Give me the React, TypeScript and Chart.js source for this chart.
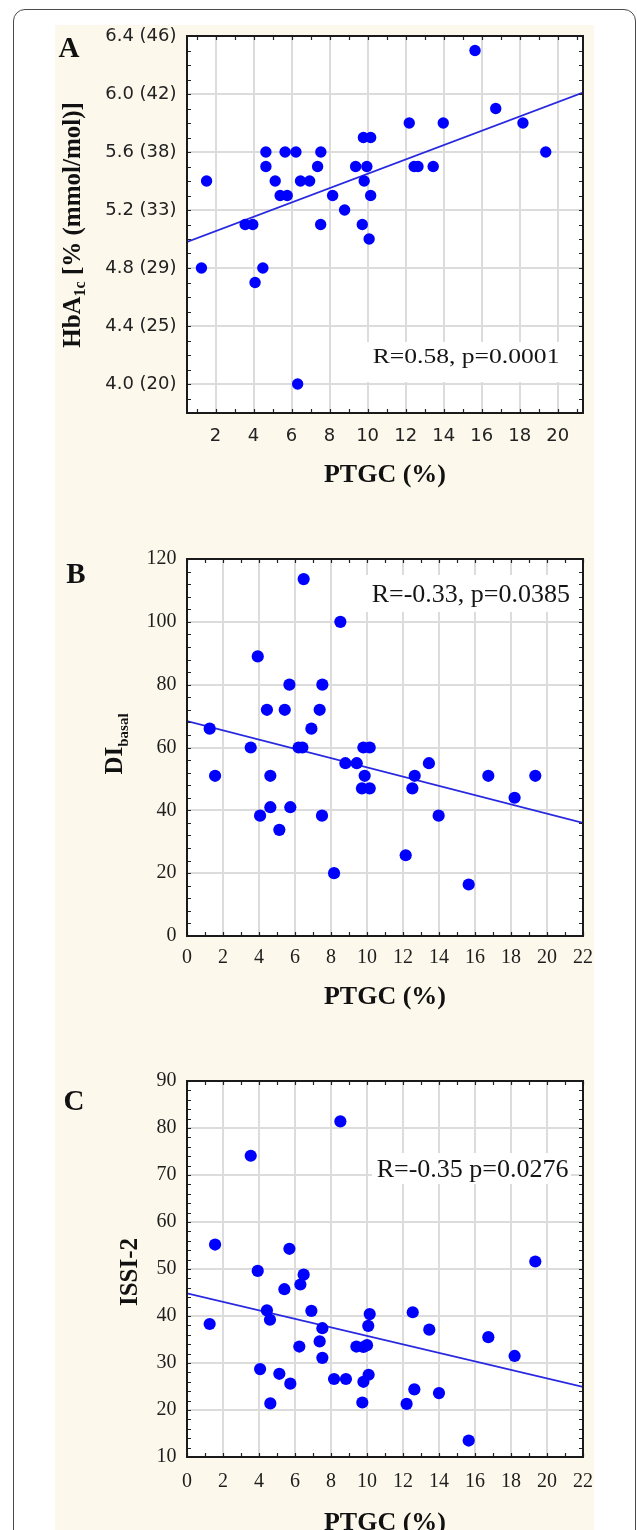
import React, { useEffect, useRef } from "react";
import { Chart, registerables } from "chart.js";

Chart.register(...registerables);

// ---------------- data ----------------
// Panel A: PTGC (%) vs HbA1c
const ptgcA = [15.65, 16.74, 18.17, 19.37, 12.19, 13.98, 9.78, 10.16, 4.65, 5.66, 6.23, 7.54, 4.65, 7.37, 9.37, 9.96, 12.45, 12.65, 13.45, 1.53, 5.14, 6.47, 6.95, 9.82, 5.40, 5.77, 8.16, 10.16, 8.79, 3.56, 3.96, 7.53, 9.72, 10.08, 1.26, 4.49, 4.08, 6.32];
const hba1cA = [6.3, 5.9, 5.8, 5.6, 5.8, 5.8, 5.7, 5.7, 5.6, 5.6, 5.6, 5.6, 5.5, 5.5, 5.5, 5.5, 5.5, 5.5, 5.5, 5.4, 5.4, 5.4, 5.4, 5.4, 5.3, 5.3, 5.3, 5.3, 5.2, 5.1, 5.1, 5.1, 5.1, 5.0, 4.8, 4.8, 4.7, 4.0];
const regLineAx = [0.5, 21.33];
const regLineAy = [4.98, 6.01];
const xTicksA = [2, 4, 6, 8, 10, 12, 14, 16, 18, 20];
const yTicksA = [4.0, 4.4, 4.8, 5.2, 5.6, 6.0, 6.4];
const yLabelsA = ["4.0 (20)", "4.4 (25)", "4.8 (29)", "5.2 (33)", "5.6 (38)", "6.0 (42)", "6.4 (46)"];

// Panel B: PTGC (%) vs DI basal
const ptgcB = [6.48, 8.52, 3.93, 5.69, 7.52, 4.44, 5.43, 7.37, 1.26, 6.91, 3.54, 6.20, 6.41, 9.80, 10.15, 8.80, 9.43, 13.44, 1.56, 4.63, 9.87, 12.65, 16.74, 19.35, 9.72, 10.15, 12.52, 18.20, 4.63, 5.74, 4.06, 7.50, 13.98, 5.13, 12.15, 8.17, 15.65];
const diB = [113.6, 100, 89, 80, 80, 72, 72, 72, 66, 66, 60, 60, 60, 60, 60, 55, 55, 55, 51, 51, 51, 51, 51, 51, 47, 47, 47, 44, 41, 41, 38.3, 38.3, 38.3, 33.8, 25.7, 20, 16.4];
const regLineBx = [0, 22];
const regLineBy = [68.4, 36.0];
const xTicksBC = [0, 2, 4, 6, 8, 10, 12, 14, 16, 18, 20, 22];
const yTicksB = [0, 20, 40, 60, 80, 100, 120];

// Panel C: PTGC (%) vs ISSI-2
const ptgcC = [8.52, 3.54, 1.56, 5.69, 19.35, 3.93, 6.48, 6.30, 5.41, 4.44, 6.91, 12.54, 10.15, 4.61, 1.26, 10.07, 7.52, 13.46, 16.74, 7.37, 6.24, 9.41, 9.80, 10.00, 18.20, 7.52, 4.06, 5.13, 10.09, 8.17, 8.83, 5.74, 9.80, 12.63, 14.00, 4.63, 9.74, 12.20, 15.65];
const issiC = [81.4, 74.1, 55.2, 54.3, 51.6, 49.6, 48.8, 46.7, 45.7, 41.2, 41.1, 40.8, 40.4, 39.2, 38.3, 37.9, 37.4, 37.1, 35.5, 34.6, 33.5, 33.5, 33.4, 33.8, 31.5, 31.1, 28.7, 27.7, 27.5, 26.6, 26.6, 25.6, 26.0, 24.4, 23.6, 21.4, 21.6, 21.3, 13.5];
const regLineCx = [0, 22];
const regLineCy = [44.8, 24.9];
const yTicksC = [10, 20, 30, 40, 50, 60, 70, 80, 90];

// ---------------- styling ----------------
const SERIF = "'Liberation Serif', 'Times New Roman', serif";
const SANS = "'DejaVu Sans', sans-serif";
const PAGE_W = 637;

type Part = { text: string; size: number; dy: number };
interface PanelSpec {
  top: number; height: number;
  padTop: number; padBottom: number; xAxisH: number;
  xMin: number; xMax: number; yMin: number; yMax: number;
  xTicks: number[]; yTicks: number[]; yLabels: string[] | null;
  xMinorStep: number; yMinorStep: number;
  tickFont: string; tickSize: number; tickColor: string; xTickPad: number; titlePadBottom: number;
  px: number[]; py: number[]; rx: number[]; ry: number[];
  pointR: number;
  letter: string; letterX: number; letterY: number;
  note: string; noteX: number; noteY: number; noteSize: number; noteSX: number; noteBox: number[];
  yTitle: Part[]; yTitleX: number; yTitleY: number;
}

function minorValues(min: number, max: number, step: number): number[] {
  const out: number[] = [];
  const start = Math.ceil(min / step - 1e-9);
  const end = Math.floor(max / step + 1e-9);
  for (let k = start; k <= end; k++) out.push(Math.round(k * step * 1000) / 1000);
  return out;
}

function makeDecor(s: PanelSpec) {
  const t = s.top;
  return {
    id: "decor",
    beforeDraw(chart: any) {
      const { ctx, chartArea: a } = chart;
      ctx.save();
      ctx.fillStyle = "#ffffff";
      ctx.fillRect(a.left, a.top, a.right - a.left, a.bottom - a.top);
      ctx.restore();
    },
    beforeDatasetsDraw(chart: any) {
      const { ctx } = chart;
      const b = s.noteBox;
      ctx.save();
      ctx.fillStyle = "#ffffff";
      ctx.fillRect(b[0], b[1] - t, b[2] - b[0], b[3] - b[1]);
      ctx.restore();
    },
    afterDraw(chart: any) {
      const { ctx, chartArea: a } = chart;
      const xs = chart.scales.x;
      const ys = chart.scales.y;
      ctx.save();
      // inward minor tick marks on all four sides
      ctx.strokeStyle = "#222";
      ctx.lineWidth = 1.2;
      const L = 4;
      ctx.beginPath();
      for (const v of minorValues(s.xMin, s.xMax, s.xMinorStep)) {
        const p = Math.round(xs.getPixelForValue(v)) + 0.5;
        ctx.moveTo(p, a.bottom); ctx.lineTo(p, a.bottom - L);
        ctx.moveTo(p, a.top); ctx.lineTo(p, a.top + L);
      }
      for (const v of minorValues(s.yMin, s.yMax, s.yMinorStep)) {
        const p = Math.round(ys.getPixelForValue(v)) + 0.5;
        ctx.moveTo(a.left, p); ctx.lineTo(a.left + L, p);
        ctx.moveTo(a.right, p); ctx.lineTo(a.right - L, p);
      }
      ctx.stroke();
      // frame
      ctx.strokeStyle = "#1a1a1a";
      ctx.lineWidth = 2;
      ctx.strokeRect(a.left, a.top, a.right - a.left, a.bottom - a.top);

      // correlation note
      ctx.fillStyle = "#151515";
      ctx.textBaseline = "alphabetic";
      ctx.textAlign = "left";
      ctx.font = `${s.noteSize}px ${SERIF}`;
      ctx.save();
      ctx.translate(s.noteX, s.noteY - t);
      ctx.scale(s.noteSX, 1);
      ctx.fillText(s.note, 0, 0);
      ctx.restore();

      // panel letter
      ctx.font = `bold 29px ${SERIF}`;
      ctx.textAlign = "center";
      ctx.fillStyle = "#111";
      ctx.fillText(s.letter, s.letterX, s.letterY - t);

      // rotated y-axis title with subscripts
      ctx.save();
      ctx.translate(s.yTitleX, s.yTitleY - t);
      ctx.rotate(-Math.PI / 2);
      ctx.textAlign = "left";
      let total = 0;
      const widths: number[] = [];
      for (const part of s.yTitle) {
        ctx.font = `bold ${part.size}px ${SERIF}`;
        const w = ctx.measureText(part.text).width;
        widths.push(w);
        total += w;
      }
      let x = -total / 2;
      s.yTitle.forEach((part, i) => {
        ctx.font = `bold ${part.size}px ${SERIF}`;
        ctx.fillText(part.text, x, part.dy);
        x += widths[i];
      });
      ctx.restore();
      ctx.restore();
    },
  };
}

function makeConfig(s: PanelSpec): any {
  const pts = s.px.map((x, i) => ({ x, y: s.py[i] }));
  const reg = s.rx.map((x, i) => ({ x, y: s.ry[i] }));
  return {
    type: "scatter",
    data: {
      datasets: [
        {
          data: pts,
          pointRadius: s.pointR,
          pointHoverRadius: s.pointR,
          pointBackgroundColor: "#0000ff",
          pointBorderColor: "#0000ff",
          pointBorderWidth: 0,
          showLine: false,
        },
        {
          data: reg,
          showLine: true,
          pointRadius: 0,
          pointHoverRadius: 0,
          borderColor: "rgb(40,40,225)",
          borderWidth: 1.8,
          fill: false,
        },
      ],
    },
    options: {
      animation: false,
      responsive: false,
      devicePixelRatio: 1,
      events: [],
      layout: { padding: { left: 67, right: PAGE_W - 583, top: s.padTop, bottom: s.padBottom } },
      plugins: { legend: { display: false }, tooltip: { enabled: false } },
      scales: {
        x: {
          type: "linear",
          position: "bottom",
          min: s.xMin,
          max: s.xMax,
          afterBuildTicks: (sc: any) => {
            sc.ticks = s.xTicks.map((v) => ({ value: v }));
          },
          afterFit: (sc: any) => {
            sc.height = s.xAxisH;
          },
          grid: { color: "#dcdcdc", lineWidth: 2, drawTicks: false },
          border: { display: false },
          ticks: {
            font: { family: s.tickFont, size: s.tickSize },
            color: s.tickColor,
            padding: s.xTickPad,
            autoSkip: false,
            maxRotation: 0,
            minRotation: 0,
            callback: (v: any) => String(v),
          },
          title: {
            display: true,
            text: "PTGC (%)",
            font: { family: SERIF, size: 26, weight: "bold" },
            color: "#111",
            padding: { top: 0, bottom: s.titlePadBottom },
          },
        },
        y: {
          type: "linear",
          position: "left",
          min: s.yMin,
          max: s.yMax,
          afterBuildTicks: (sc: any) => {
            sc.ticks = s.yTicks.map((v) => ({ value: v }));
          },
          afterFit: (sc: any) => {
            sc.width = 120;
          },
          grid: { color: "#dcdcdc", lineWidth: 2, drawTicks: false },
          border: { display: false },
          ticks: {
            font: { family: s.tickFont, size: s.tickSize },
            color: s.tickColor,
            padding: 10.5,
            autoSkip: false,
            callback: (v: any, i: number) => (s.yLabels ? s.yLabels[i] : String(v)),
          },
          title: { display: false },
        },
      },
    },
    plugins: [makeDecor(s)],
  };
}

const panelA: PanelSpec = {
  top: 0, height: 520, padTop: 36, padBottom: 7, xAxisH: 100,
  xMin: 0.5, xMax: 21.33, yMin: 3.8, yMax: 6.4,
  xTicks: xTicksA, yTicks: yTicksA, yLabels: yLabelsA,
  xMinorStep: 1, yMinorStep: 0.1,
  tickFont: SANS, tickSize: 18, tickColor: "#222", xTickPad: 13, titlePadBottom: 22,
  px: ptgcA, py: hba1cA, rx: regLineAx, ry: regLineAy, pointR: 5.7,
  letter: "A", letterX: 69, letterY: 57,
  note: "R=0.58, p=0.0001", noteX: 372.7, noteY: 363.3, noteSize: 20, noteSX: 1.28, noteBox: [362, 342, 580, 382],
  yTitle: [
    { text: "HbA", size: 25, dy: 0 },
    { text: "1c", size: 16, dy: 5 },
    { text: " [% (mmol/mol)]", size: 25, dy: 0 },
  ],
  yTitleX: 80, yTitleY: 225,
};

const panelB: PanelSpec = {
  top: 520, height: 500, padTop: 39, padBottom: 4, xAxisH: 80,
  xMin: 0, xMax: 22, yMin: 0, yMax: 120,
  xTicks: xTicksBC, yTicks: yTicksB, yLabels: null,
  xMinorStep: 1, yMinorStep: 4,
  tickFont: SERIF, tickSize: 20, tickColor: "#1e1e1e", xTickPad: 10, titlePadBottom: 3,
  px: ptgcB, py: diB, rx: regLineBx, ry: regLineBy, pointR: 6.1,
  letter: "B", letterX: 76, letterY: 583,
  note: "R=-0.33, p=0.0385", noteX: 371.7, noteY: 601.7, noteSize: 26, noteSX: 1, noteBox: [366, 575, 578, 612],
  yTitle: [
    { text: "DI", size: 25, dy: 0 },
    { text: "basal", size: 15, dy: 6 },
  ],
  yTitleX: 122, yTitleY: 744,
};

const panelC: PanelSpec = {
  top: 1020, height: 540, padTop: 61, padBottom: 0, xAxisH: 103,
  xMin: 0, xMax: 22, yMin: 10, yMax: 90,
  xTicks: xTicksBC, yTicks: yTicksC, yLabels: null,
  xMinorStep: 1, yMinorStep: 2,
  tickFont: SERIF, tickSize: 20, tickColor: "#1e1e1e", xTickPad: 13, titlePadBottom: 21,
  px: ptgcC, py: issiC, rx: regLineCx, ry: regLineCy, pointR: 6.1,
  letter: "C", letterX: 74, letterY: 1110,
  note: "R=-0.35 p=0.0276", noteX: 376.7, noteY: 1176.7, noteSize: 26, noteSX: 1, noteBox: [372, 1153, 571, 1184],
  yTitle: [{ text: "ISSI-2", size: 25, dy: 0 }],
  yTitleX: 137, yTitleY: 1272,
};

function Panel({ spec }: { spec: PanelSpec }) {
  const ref = useRef<HTMLCanvasElement | null>(null);
  useEffect(() => {
    if (!ref.current) return;
    const chart = new Chart(ref.current, makeConfig(spec));
    return () => chart.destroy();
  }, [spec]);
  return (
    <canvas
      ref={ref}
      width={PAGE_W}
      height={spec.height}
      style={{ position: "absolute", left: 0, top: spec.top, width: PAGE_W, height: spec.height, display: "block" }}
    />
  );
}

export default function App() {
  return (
    <div
      style={{
        position: "absolute",
        left: 0,
        top: 0,
        width: PAGE_W,
        height: 1530,
        overflow: "hidden",
        background: "#ffffff",
      }}
    >
      <div
        style={{
          position: "absolute",
          left: 13,
          top: 9,
          width: 623,
          height: 1700,
          border: "1.5px solid #4a4a4a",
          borderRadius: 12,
          boxSizing: "border-box",
        }}
      />
      <div style={{ position: "absolute", left: 55, top: 25, width: 539, height: 1600, background: "#FCF8EC" }} />
      <Panel spec={panelA} />
      <Panel spec={panelB} />
      <Panel spec={panelC} />
    </div>
  );
}
